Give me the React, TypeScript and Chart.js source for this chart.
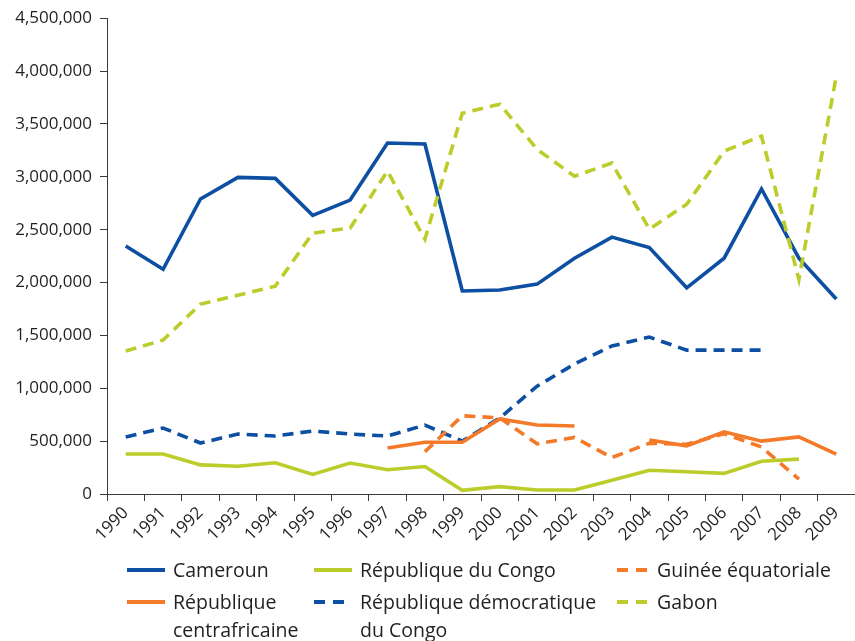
import React, { useEffect, useRef } from 'react';
import { Chart, registerables } from 'chart.js';

Chart.register(...registerables);

const years = ['1990', '1991', '1992', '1993', '1994', '1995', '1996', '1997', '1998', '1999', '2000', '2001', '2002', '2003', '2004', '2005', '2006', '2007', '2008', '2009'];

const cameroun = [2345000, 2125000, 2790000, 2995000, 2985000, 2635000, 2780000, 3320000, 3310000, 1920000, 1930000, 1985000, 2230000, 2430000, 2330000, 1950000, 2230000, 2885000, 2230000, 1845000];
const congo = [378000, 378000, 275000, 262000, 295000, 185000, 293000, 230000, 260000, 35000, 70000, 38000, 38000, 130000, 225000, 210000, 195000, 310000, 330000, null];
const guinee = [null, null, null, null, null, null, null, null, 400000, 740000, 720000, 475000, 535000, 345000, 480000, 470000, 570000, 445000, 140000, null];
const centrafrique = [null, null, null, null, null, null, null, 435000, 490000, 490000, 710000, 652000, 643000, null, 510000, 455000, 588000, 500000, 540000, 378000];
const rdc = [539000, 624000, 482000, 567000, 548000, 596000, 567000, 548000, 652000, 501000, 718000, 1020000, 1229000, 1400000, 1484000, 1361000, 1361000, 1361000, null, null];
const gabon = [1352000, 1456000, 1796000, 1880000, 1966000, 2467000, 2515000, 3054000, 2410000, 3602000, 3687000, 3260000, 3006000, 3130000, 2505000, 2740000, 3243000, 3385000, 2030000, 3952000];

const yMin = 0;
const yMax = 4500000;
const yStep = 500000;

const BLUE = '#0d4fa2';
const GREEN = '#bccd2b';
const ORANGE = '#f47a2a';
const AXIS = '#3a3a3a';
const TEXT = '#231f20';
const FONT = '"Open Sans", "Noto Sans", sans-serif';
const DASH = [11, 7];

type LegendItem = { lines: string[]; color: string; dashed: boolean; left: number; textLeft: number; top: number };

const legendItems: LegendItem[] = [
  { lines: ['Cameroun'], color: BLUE, dashed: false, left: 127, textLeft: 173, top: 556 },
  { lines: ['République du Congo'], color: GREEN, dashed: false, left: 314, textLeft: 360, top: 556 },
  { lines: ['Guinée équatoriale'], color: ORANGE, dashed: true, left: 617, textLeft: 657, top: 556 },
  { lines: ['République', 'centrafricaine'], color: ORANGE, dashed: false, left: 127, textLeft: 173, top: 588 },
  { lines: ['République démocratique', 'du Congo'], color: BLUE, dashed: true, left: 314, textLeft: 360, top: 588 },
  { lines: ['Gabon'], color: GREEN, dashed: true, left: 617, textLeft: 657, top: 588 },
];

const LINE_H = 28;

export default function App() {
  const ref = useRef<HTMLCanvasElement>(null);

  useEffect(() => {
    const mk = (label: string, data: (number | null)[], color: string, dashed: boolean) => ({
      label,
      data,
      borderColor: color,
      backgroundColor: color,
      borderWidth: 3.6,
      borderDash: dashed ? DASH : [],
      pointRadius: 0,
      tension: 0,
      spanGaps: false,
      fill: false,
    });
    const chart = new Chart(ref.current as HTMLCanvasElement, {
      type: 'line',
      data: {
        labels: years,
        datasets: [
          mk('République du Congo', congo, GREEN, false),
          mk('République centrafricaine', centrafrique, ORANGE, false),
          mk('Guinée équatoriale', guinee, ORANGE, true),
          mk('République démocratique du Congo', rdc, BLUE, true),
          mk('Gabon', gabon, GREEN, true),
          mk('Cameroun', cameroun, BLUE, false),
        ],
      },
      options: {
        responsive: false,
        animation: false,
        devicePixelRatio: 1,
        layout: { padding: { top: 17, right: 0, left: 0, bottom: 0 } },
        plugins: { legend: { display: false }, tooltip: { enabled: false } },
        scales: {
          x: {
            type: 'category',
            offset: true,
            grid: { offset: true, display: true, drawOnChartArea: false, drawTicks: true, tickLength: 7, color: AXIS, lineWidth: 1 },
            border: { display: true, color: AXIS, width: 1 },
            ticks: { autoSkip: false, maxRotation: 45, minRotation: 45, padding: 2, color: TEXT, font: { family: FONT, size: 17 } },
            afterFit: (s: any) => { s.height = 147; },
          },
          y: {
            type: 'linear',
            min: yMin,
            max: yMax,
            grid: { display: true, drawOnChartArea: false, drawTicks: true, tickLength: 7, color: AXIS, lineWidth: 1 },
            border: { display: true, color: AXIS, width: 1 },
            ticks: {
              stepSize: yStep,
              padding: 8,
              color: TEXT,
              font: { family: FONT, size: 17 },
              callback: (v: any) => Number(v).toLocaleString('en-US'),
            },
            afterFit: (s: any) => { s.width = 107; },
          },
        },
      },
    } as any);
    return () => chart.destroy();
  }, []);

  return (
    <div style={{ position: 'absolute', left: 0, top: 0, width: 855, height: 641, background: '#fff', overflow: 'hidden' }}>
      <canvas ref={ref} width={855} height={641} style={{ position: 'absolute', left: 0, top: 0, width: 855, height: 641 }} />
      {legendItems.map((it, i) => (
        <div key={i}>
          {it.dashed ? (
            <>
              <div style={{ position: 'absolute', left: it.left, top: it.top + LINE_H / 2 - 2, width: 11, height: 4, background: it.color }} />
              <div style={{ position: 'absolute', left: it.left + 19, top: it.top + LINE_H / 2 - 2, width: 11, height: 4, background: it.color }} />
            </>
          ) : (
            <div style={{ position: 'absolute', left: it.left, top: it.top + LINE_H / 2 - 2, width: 38, height: 4, background: it.color }} />
          )}
          <div style={{ position: 'absolute', left: it.textLeft, top: it.top, fontFamily: FONT, fontSize: 19.5, lineHeight: LINE_H + 'px', color: TEXT, whiteSpace: 'nowrap' }}>
            {it.lines.map((l, j) => (
              <div key={j}>{l}</div>
            ))}
          </div>
        </div>
      ))}
    </div>
  );
}
